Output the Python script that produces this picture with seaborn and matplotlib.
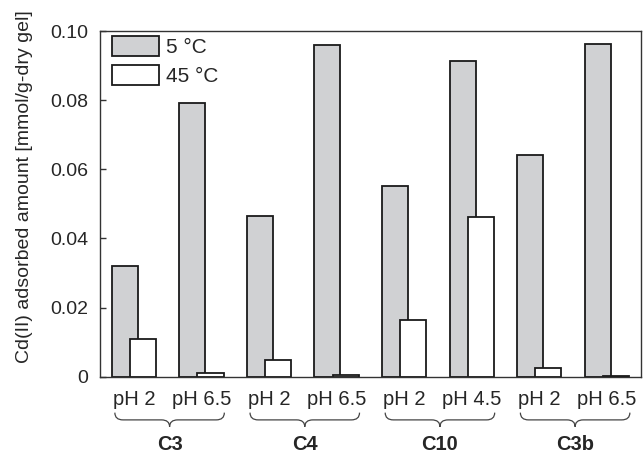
import pandas as pd
import seaborn as sns
import matplotlib
matplotlib.use("Agg")
import matplotlib.pyplot as plt
import matplotlib.transforms as mtransforms
from matplotlib.path import Path
from matplotlib.patches import PathPatch

# Data
groups = ['C3', 'C4', 'C10', 'C3b']
ph_labels = ['pH 2', 'pH 6.5', 'pH 2', 'pH 6.5', 'pH 2', 'pH 4.5', 'pH 2', 'pH 6.5']
temps = ['5 °C', '45 °C']
cd_5C = [0.0321, 0.0793, 0.0464, 0.0960, 0.0551, 0.0914, 0.0640, 0.0962]
cd_45C = [0.0109, 0.0010, 0.0048, 0.0004, 0.0163, 0.0461, 0.0026, 0.0003]

# category keys must be unique, so prefix with the gel name
keys = []
for i, ph in enumerate(ph_labels):
	keys.append(groups[i // 2] + ' ' + ph)

df = pd.DataFrame({
	'key': keys * 2,
	'temp': [temps[0]] * len(keys) + [temps[1]] * len(keys),
	'value': cd_5C + cd_45C,
})

sns.set_style('white')
plt.rcParams['font.family'] = ['Liberation Sans', 'DejaVu Sans']

fig = plt.figure(figsize=(6.43, 4.54), dpi=100)
ax = fig.add_axes([0.1555, 0.1703, 0.8409, 0.7614])

edge = '#1a1a1a'
ax = sns.barplot(data=df, x='key', y='value', hue='temp', hue_order=temps,
	palette={temps[0]: '#d0d1d3', temps[1]: 'white'},
	edgecolor=edge, linewidth=1.3, width=0.54, dodge=True,
	saturation=1, legend=False, ax=ax)

# widen bars around their centres so neighbours overlap like the original
bar_w = 0.385
for bars in ax.containers:
	for bar in bars:
		c = bar.get_x() + bar.get_width() / 2
		bar.set_width(bar_w)
		bar.set_x(c - bar_w / 2)

ax.set_xlim(-0.5, len(keys) - 0.5)
ax.set_ylim(0, 0.10)
ax.set_yticks([0, 0.02, 0.04, 0.06, 0.08, 0.10])
ax.set_yticklabels(['0', '0.02', '0.04', '0.06', '0.08', '0.10'])
ax.set_xticks(range(len(keys)))
ax.set_xticklabels(ph_labels)
ax.tick_params(axis='y', direction='in', length=4, width=1, color='#333333',
	labelsize=14, pad=8.5, left=True)
ax.tick_params(axis='x', length=0, labelsize=14.5, pad=9.5)
for s in ax.spines.values():
	s.set_color('#333333')
	s.set_linewidth(1.0)

ax.set_xlabel('')
ax.set_ylabel('Cd(II) adsorbed amount [mmol/g-dry gel]', fontsize=14)
ax.yaxis.set_label_coords(-0.124, 0.549)

ax.legend(handles=list(ax.containers), labels=temps, loc='upper left',
	bbox_to_anchor=(0.0216, 0.9855), borderpad=0, borderaxespad=0,
	frameon=False, fontsize=15, handlelength=2.25, handleheight=1.12,
	labelspacing=0.35, handletextpad=0.37)

# curly braces under each pair of pH labels, plus the gel name
trans = mtransforms.blended_transform_factory(ax.transData, ax.transAxes)
y_top, y_mid, y_bot = -0.104, -0.125, -0.145
r = 0.12
for g, name in enumerate(groups):
	xm = 2 * g + 0.5 + 0.03
	x0, x1 = xm - 0.81, xm + 0.81
	verts = [(x0, y_top), (x0, y_mid), (x0 + r, y_mid),
		(xm - r, y_mid),
		(xm, y_mid), (xm, y_bot),
		(xm, y_mid), (xm + r, y_mid),
		(x1 - r, y_mid),
		(x1, y_mid), (x1, y_top)]
	codes = [Path.MOVETO, Path.CURVE3, Path.CURVE3,
		Path.LINETO,
		Path.CURVE3, Path.CURVE3,
		Path.CURVE3, Path.CURVE3,
		Path.LINETO,
		Path.CURVE3, Path.CURVE3]
	ax.add_patch(PathPatch(Path(verts, codes), transform=trans, fill=False,
		edgecolor='#444444', linewidth=0.9, clip_on=False))
	ax.text(xm, -0.212, name, transform=trans, ha='center', va='baseline',
		fontsize=14.5, fontweight='bold')

fig.savefig('out.png', dpi=100)
